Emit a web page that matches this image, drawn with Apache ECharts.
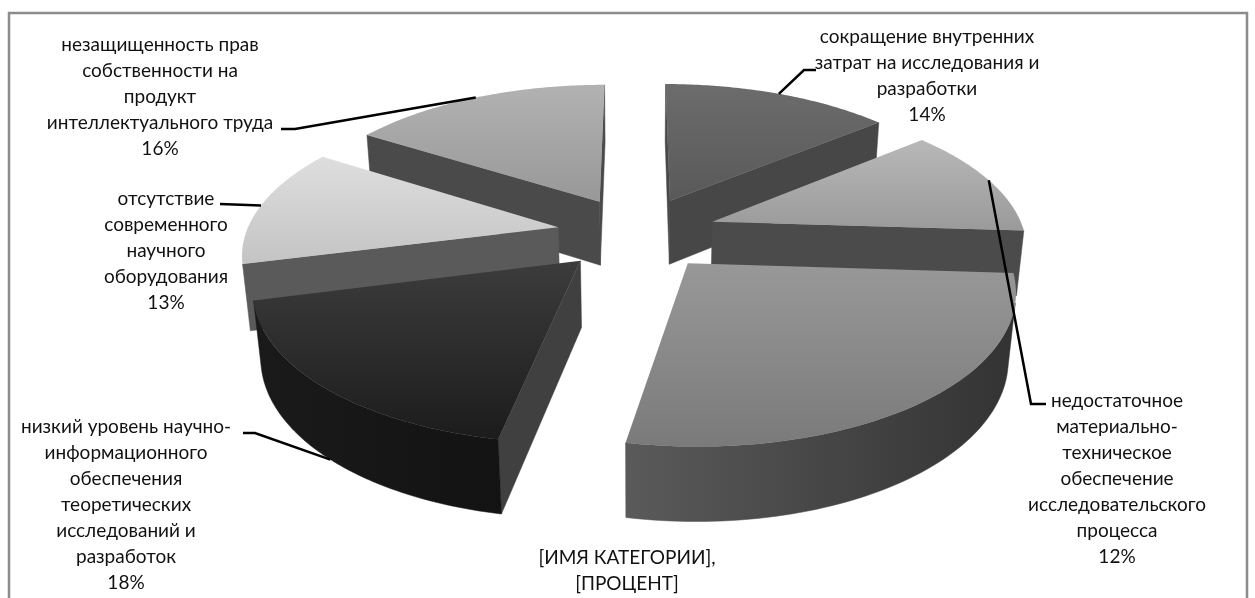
<!DOCTYPE html>
<html>
<head>
<meta charset="utf-8">
<style>html,body{margin:0;padding:0;background:#fff}#c{width:1255px;height:598px}</style>
<script src="https://cdn.jsdelivr.net/npm/echarts@6/dist/echarts.min.js"></script>
</head>
<body>
<div id="c"></div>
<script>
const categories = [
  'сокращение внутренних\nзатрат на исследования и\nразработки',
  'недостаточное\nматериально-\nтехническое\nобеспечение\nисследовательского\nпроцесса',
  '[ИМЯ КАТЕГОРИИ],',
  'низкий уровень научно-\nинформационного\nобеспечения\nтеоретических\nисследований и\nразработок',
  'отсутствие\nсовременного\nнаучного\nоборудования',
  'незащищенность прав\nсобственности на\nпродукт\nинтеллектуального труда'
];
const values = [14, 12, 27, 18, 13, 16];
const percentLabels = ['14%', '12%', '[ПРОЦЕНТ]', '18%', '13%', '16%'];

// ---- styling / layout (not data) ----
const drawRank = [0, 2, 4, 5, 3, 1];
const topColors = [['#6c6c6c','#595959'],['#b8b8b8','#9a9a9a'],['#989898','#7a7a7a'],['#3c3c3c','#1c1c1c'],['#dedede','#c4c4c4'],['#b2b2b2','#989898']];
const cutColors = ['#474747','#4b4b4b','#555555','#404040','#5a5a5a','#4a4a4a'];
const arcColors = [['#474747','#474747'],['#565656','#4b4b4b'],['#5a5a5a','#333333'],['#1a1a1a','#131313'],['#6a6a6a','#5a5a5a'],['#4a4a4a','#4a4a4a']];
const labelCenters = [[927,24],[1117,388],[627,545],[126,414],[166,186],[160,32]];
const leaderElbows = [[[804,70],[816,70]],[[1031,404],[1046,404]],null,[[255,433],[243,433]],[[220,204]],[[295,129],[281,129]]];
const leaderOnBase = [false,false,false,true,false,false];
const view = {cx:637, cy:233, F:1770, D:5.67, tilt:27.5, h:0.24, explode:0.257};

const total = values.reduce((a,b)=>a+b,0);
const startFrac = []; values.reduce((acc,v,i)=>{startFrac[i]=acc/total; return acc+v;},0);
const sinT = Math.sin(view.tilt*Math.PI/180), cosT = Math.cos(view.tilt*Math.PI/180);
function project(X,Y,z){
  const d = view.D + Y*cosT - z*sinT;
  return [view.cx + view.F*X/d, view.cy - view.F*(Y*sinT + z*cosT)/d];
}
function sliceGeom(i){
  const a0 = startFrac[i]*2*Math.PI, a1 = (startFrac[i]+values[i]/total)*2*Math.PI, m=(a0+a1)/2;
  return {a0,a1,m,ex:Math.sin(m)*view.explode,ey:Math.cos(m)*view.explode};
}
function area(p){let s=0;for(let k=0;k<p.length;k++){const q=p[(k+1)%p.length];s+=p[k][0]*q[1]-q[0]*p[k][1];}return s;}

function renderSlice(params, api){
  const i = params.dataIndex, g = sliceGeom(i), N = 72;
  const ring = t => { const pts=[]; for(let k=0;k<=N;k++){const a=g.a0+(g.a1-g.a0)*k/N; pts.push(project(g.ex+Math.sin(a),g.ey+Math.cos(a),t));} return pts; };
  const topArc = ring(0), botArc = ring(-view.h);
  const apexT = project(g.ex,g.ey,0), apexB = project(g.ex,g.ey,-view.h);
  const base = drawRank[i]*10, children = [];
  const wall = (pts,fill,z)=>children.push({type:'polygon',shape:{points:pts},z2:base+z,style:{fill,stroke:fill,lineWidth:0.5}});
  const cut1=[apexT,topArc[0],botArc[0],apexB], cut2=[topArc[N],apexT,apexB,botArc[N]];
  if(area(cut1)<0) wall(cut1,cutColors[i],1);
  if(area(cut2)<0) wall(cut2,cutColors[i],1);
  let run=[];
  const flush=()=>{ if(run.length){
      const up=run.map(k=>topArc[k]), dn=run.map(k=>botArc[k]).reverse(), pts=up.concat(dn);
      const xs=pts.map(p=>p[0]), x0=Math.min(...xs), x1=Math.max(...xs);
      wall(pts,new echarts.graphic.LinearGradient(x0,0,x1,0,[{offset:0,color:arcColors[i][0]},{offset:1,color:arcColors[i][1]}],true),2);
      run=[];
  }};
  for(let k=0;k<N;k++){
    const vis=area([topArc[k],topArc[k+1],botArc[k+1],botArc[k]])<0;
    if(vis){ if(!run.length) run.push(k); run.push(k+1);} else flush();
  }
  flush();
  children.push({type:'polygon',shape:{points:[apexT].concat(topArc)},z2:base+3,
    style:{fill:new echarts.graphic.LinearGradient(0,0,0,1,[{offset:0,color:topColors[i][0]},{offset:1,color:topColors[i][1]}])}});
  return {type:'group',children};
}
function renderLabel(params, api){
  const i = params.dataIndex, children=[];
  children.push({type:'text',style:{text:categories[i]+'\n'+percentLabels[i],x:labelCenters[i][0],y:labelCenters[i][1],
    align:'center',verticalAlign:'top',lineHeight:26,fill:'#111',fontFamily:'Lato',fontSize:19}});
  if(leaderElbows[i]){
    const g=sliceGeom(i), z=leaderOnBase[i]?-view.h:0;
    const start=project(g.ex+Math.sin(g.m),g.ey+Math.cos(g.m),z);
    children.push({type:'polyline',shape:{points:[start].concat(leaderElbows[i])},style:{stroke:'#000',lineWidth:2.5,fill:'none'}});
  }
  return {type:'group',children};
}
const chart = echarts.init(document.getElementById('c'),null,{renderer:'canvas'});
chart.setOption({
  animation:false,
  backgroundColor:'#fff',
  graphic:[{type:'rect',silent:true,shape:{x:9,y:13,width:1238,height:620},style:{fill:'none',stroke:'#8c8c8c',lineWidth:2.5}}],
  series:[
    {type:'custom',coordinateSystem:'none',renderItem:renderSlice,data:values,z:2,silent:true,clip:false},
    {type:'custom',coordinateSystem:'none',renderItem:renderLabel,data:values,z:3,silent:true,clip:false}
  ]
});
</script>
</body>
</html>
